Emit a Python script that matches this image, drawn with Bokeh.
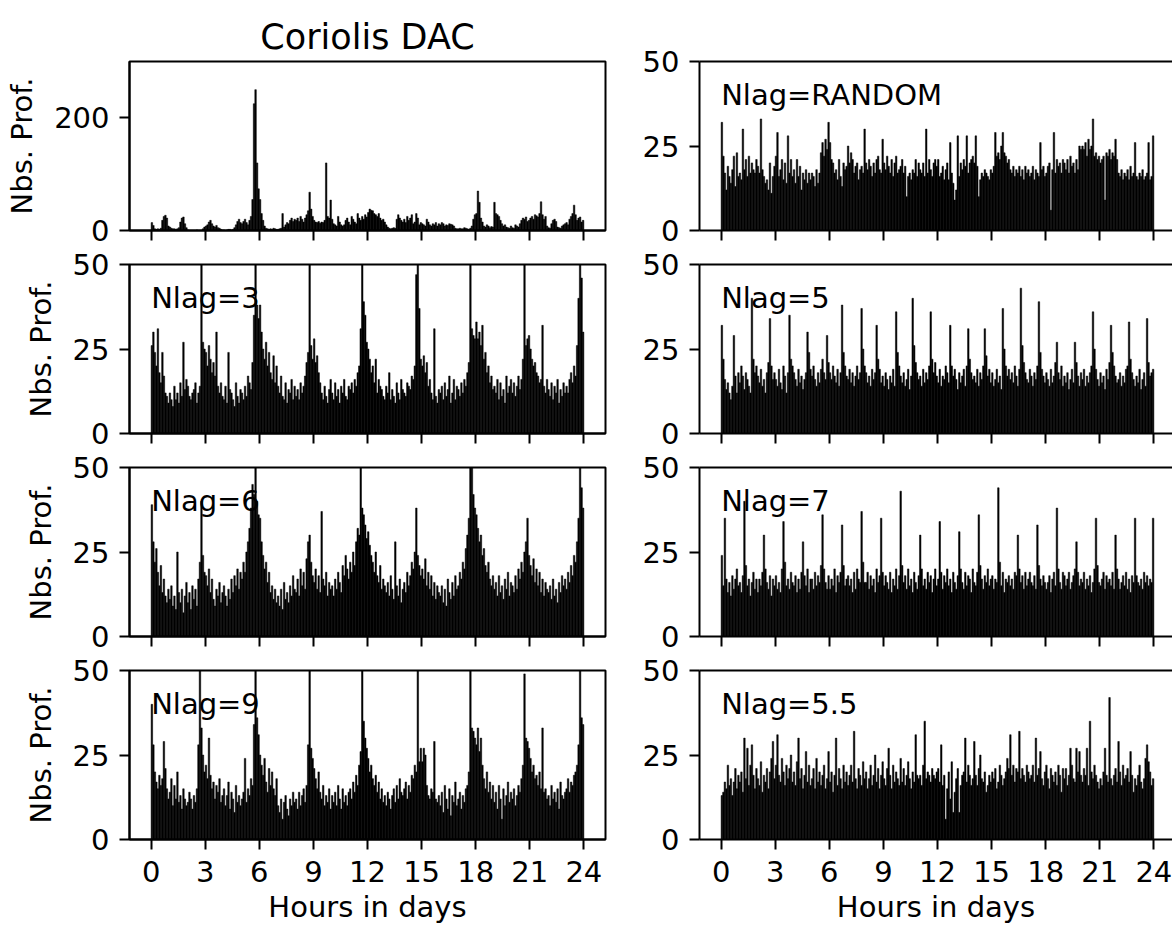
from bokeh.plotting import figure
from bokeh.models import FixedTicker, Label, LinearAxis, Range1d
from bokeh.layouts import column, row
from bokeh.embed import file_html
from bokeh.resources import INLINE

# ---------------- data (5-minute bins over 24 h, 12 bins per hour) ----------------
hour_ticks = [0, 3, 6, 9, 12, 15, 18, 21, 24]
bins_per_hour = 12

coriolis_dac = [
    14, 9, 3, 2, 3, 2, 4, 18, 25, 27, 22, 8,
    6, 4, 3, 3, 2, 3, 5, 15, 22, 24, 12, 5,
    1, 0, 0, 0, 0, 0, 1, 0, 0, 0, 3, 6,
    8, 10, 15, 18, 12, 8, 6, 9, 5, 4, 2, 1,
    1, 0, 1, 2, 2, 1, 2, 5, 10, 16, 20, 14,
    12, 16, 20, 14, 10, 18, 25, 55, 225, 250, 120, 74,
    55, 30, 18, 8, 4, 3, 2, 3, 2, 4, 3, 2,
    2, 3, 4, 30, 6, 10, 14, 12, 18, 22, 16, 20,
    18, 22, 16, 25, 20, 15, 22, 28, 35, 68, 38, 25,
    18, 15, 14, 16, 13, 15, 14, 18, 120, 25, 22, 54,
    20, 12, 10, 8, 25, 15, 10, 8, 10, 18, 22, 15,
    10, 25, 20, 15, 12, 30, 22, 18, 25, 20, 28, 24,
    32, 38, 36, 35, 30, 28, 25, 30, 22, 18, 20, 15,
    10, 6, 4, 3, 4, 5, 4, 20, 28, 22, 18, 15,
    20, 14, 25, 18, 22, 28, 12, 15, 30, 22, 10, 14,
    12, 10, 8, 20, 15, 10, 8, 12, 10, 14, 8, 12,
    10, 14, 12, 8, 10, 9, 12, 11, 10, 8, 4, 3,
    3, 4, 3, 3, 5, 4, 3, 2, 4, 8, 20, 28,
    30, 70, 50, 22, 15, 8, 6, 10, 8, 5, 7, 6,
    50, 30, 28, 25, 18, 12, 8, 10, 6, 5, 4, 8,
    5, 4, 10, 8, 6, 12, 18, 22, 20, 24, 16, 18,
    22, 25, 20, 28, 26, 24, 30, 51, 28, 20, 25, 8,
    5, 4, 12, 18, 20, 16, 6, 5, 4, 8, 10, 12,
    14, 10, 20, 25, 30, 45, 28, 18, 22, 24, 15, 18,
]

nlag_random = [
    32, 22, 17, 12, 19, 16, 14, 18, 22, 13, 23, 16,
    17, 15, 30, 18, 21, 16, 22, 17, 20, 18, 17, 21,
    19, 17, 33, 18, 16, 14, 15, 12, 20, 11, 16, 19,
    22, 29, 16, 18, 21, 15, 20, 14, 28, 17, 21, 16,
    18, 14, 21, 16, 19, 12, 17, 15, 18, 14, 17, 15,
    17, 16, 13, 18, 14, 17, 23, 26, 22, 27, 24, 32,
    26, 21, 20, 17, 18, 15, 21, 16, 13, 20, 18, 19,
    25, 20, 23, 21, 17, 19, 20, 15, 18, 19, 17, 30,
    20, 18, 21, 19, 16, 20, 17, 21, 22, 18, 17, 27,
    20, 18, 22, 19, 17, 21, 16, 20, 22, 17, 18, 19,
    21, 17, 19, 10, 16, 17, 15, 18, 17, 21, 16, 20,
    18, 17, 20, 16, 30, 17, 21, 18, 16, 20, 21, 19,
    21, 16, 17, 19, 15, 18, 20, 15, 26, 17, 14, 9,
    12, 28, 16, 20, 18, 21, 19, 28, 17, 20, 21, 22,
    20, 28, 19, 10, 15, 17, 16, 18, 17, 16, 15, 18,
    17, 19, 29, 22, 23, 21, 25, 29, 23, 22, 20, 21,
    18, 17, 19, 16, 18, 17, 19, 16, 18, 15, 19, 17,
    18, 16, 17, 19, 15, 18, 17, 16, 26, 18, 19, 16,
    17, 19, 20, 6, 18, 29, 17, 21, 19, 20, 17, 21,
    20, 18, 21, 17, 22, 19, 20, 17, 21, 18, 25, 24,
    25, 24, 26, 22, 27, 24, 25, 33, 22, 23, 21, 22,
    20, 21, 22, 9, 23, 22, 24, 21, 23, 22, 27, 21,
    17, 16, 18, 15, 17, 16, 18, 15, 19, 16, 17, 26,
    16, 15, 17, 16, 18, 15, 16, 17, 26, 15, 16, 28,
]

nlag_3 = [
    26, 30, 24, 20, 31, 18, 15, 24, 17, 12, 11, 9,
    12, 10, 8, 14, 10, 12, 9, 15, 11, 27, 13, 16,
    14, 11, 10, 12, 13, 15, 9, 12, 14, 60, 27, 25,
    24, 20, 26, 22, 18, 21, 17, 30, 14, 12, 15, 11,
    10, 14, 9, 24, 13, 12, 10, 8, 15, 11, 9, 13,
    12, 10, 14, 11, 17, 15, 13, 21, 35, 60, 38, 34,
    38, 30, 25, 22, 27, 20, 24, 18, 16, 23, 15, 20,
    14, 12, 17, 11, 10, 15, 9, 13, 12, 16, 10, 14,
    11, 13, 10, 15, 12, 14, 17, 21, 24, 60, 26, 22,
    28, 21, 23, 18, 15, 12, 10, 14, 11, 9, 13, 16,
    12, 10, 15, 11, 13, 9, 14, 12, 16, 11, 10, 14,
    13, 15, 12, 16, 14, 18, 20, 31, 60, 39, 35, 27,
    25, 22, 18, 20, 15, 22, 12, 16, 14, 13, 11, 10,
    14, 12, 18, 10, 13, 11, 9, 15, 12, 10, 16, 13,
    12, 11, 15, 14, 13, 17, 16, 20, 47, 60, 37, 22,
    20, 23, 18, 21, 14, 16, 12, 10, 31, 11, 9, 13,
    12, 14, 10, 15, 11, 13, 17, 9, 12, 16, 10, 14,
    13, 11, 15, 12, 16, 14, 18, 21, 60, 31, 29, 28,
    33, 28, 30, 26, 32, 22, 24, 18, 20, 15, 17, 13,
    14, 12, 16, 10, 15, 11, 13, 9, 17, 12, 14, 16,
    12, 15, 11, 14, 17, 13, 16, 22, 60, 26, 28, 29,
    25, 22, 20, 21, 18, 17, 15, 16, 32, 14, 12, 16,
    13, 11, 15, 10, 14, 12, 16, 9, 13, 11, 15, 12,
    14, 12, 16, 18, 15, 20, 17, 26, 40, 60, 46, 30,
]

nlag_5 = [
    32, 22, 16, 13, 15, 12, 10, 14, 29, 17, 12, 18,
    15, 20, 17, 13, 18, 16, 14, 12, 40, 22, 18, 20,
    17, 15, 19, 14, 16, 12, 18, 21, 34, 20, 16, 18,
    16, 14, 19, 15, 13, 20, 17, 12, 18, 35, 22, 20,
    18, 16, 14, 19, 15, 17, 13, 16, 18, 30, 24, 19,
    17, 20, 16, 14, 18, 15, 19, 22, 18, 16, 29, 21,
    18, 16, 20, 17, 15, 19, 14, 18, 38, 24, 20, 17,
    16, 19, 15, 18, 14, 17, 20, 16, 18, 37, 25, 20,
    18, 15, 17, 14, 19, 16, 18, 32, 22, 19, 15, 17,
    14, 18, 16, 13, 17, 15, 19, 14, 36, 24, 20, 17,
    15, 18, 14, 16, 19, 13, 17, 40, 26, 21, 18, 16,
    17, 14, 19, 15, 18, 16, 20, 36, 22, 18, 21, 17,
    15, 19, 14, 17, 16, 20, 18, 15, 32, 20, 17, 19,
    16, 13, 18, 15, 17, 19, 14, 20, 31, 22, 18, 16,
    17, 15, 19, 14, 18, 16, 20, 31, 23, 17, 19, 15,
    18, 14, 16, 19, 15, 17, 13, 37, 25, 20, 17, 19,
    16, 18, 15, 20, 17, 14, 19, 43, 26, 21, 18, 16,
    15, 19, 17, 14, 18, 16, 20, 39, 24, 19, 17, 15,
    18, 16, 14, 19, 15, 17, 21, 27, 18, 16, 20, 14,
    17, 15, 18, 13, 16, 19, 15, 27, 21, 17, 14, 18,
    16, 19, 14, 17, 15, 18, 20, 36, 25, 19, 16, 14,
    18, 15, 17, 13, 19, 16, 21, 32, 24, 20, 17, 15,
    16, 18, 14, 17, 15, 19, 20, 33, 22, 18, 16, 14,
    17, 15, 19, 13, 16, 18, 14, 34, 21, 17, 18, 19,
]

nlag_6 = [
    39, 28, 22, 26, 19, 15, 21, 13, 17, 12, 10, 14,
    11, 15, 9, 12, 8, 25, 13, 10, 14, 7, 12, 16,
    10, 13, 8, 15, 11, 14, 9, 17, 22, 40, 24, 19,
    18, 15, 20, 13, 17, 11, 9, 14, 12, 16, 10, 13,
    15, 12, 9, 14, 11, 17, 13, 18, 15, 20, 14, 19,
    17, 22, 19, 25, 28, 32, 38, 45, 42, 60, 40, 36,
    35, 28, 24, 20, 22, 16, 19, 13, 15, 11, 14, 10,
    12, 9, 14, 8, 16, 11, 13, 10, 15, 12, 18, 14,
    13, 17, 12, 20, 15, 19, 14, 23, 28, 30, 22, 18,
    16, 20, 14, 18, 13, 37, 17, 15, 19, 12, 16, 14,
    15, 12, 17, 14, 19, 16, 13, 21, 18, 24, 20, 17,
    22, 19, 25, 21, 28, 32, 30, 60, 38, 36, 33, 29,
    31, 27, 24, 22, 19, 25, 18, 16, 21, 14, 17, 15,
    13, 16, 12, 18, 14, 11, 28, 15, 12, 17, 10, 14,
    16, 13, 19, 15, 18, 22, 20, 25, 38, 24, 21, 18,
    20, 17, 23, 15, 19, 14, 18, 12, 16, 11, 15, 13,
    12, 15, 10, 14, 9, 17, 13, 11, 16, 12, 18, 14,
    15, 19, 17, 22, 20, 26, 30, 35, 60, 55, 42, 38,
    36, 32, 28, 30, 24, 26, 21, 19, 22, 17, 15, 18,
    14, 16, 12, 18, 13, 15, 11, 17, 14, 19, 12, 16,
    15, 13, 18, 14, 20, 17, 22, 19, 25, 28, 35, 24,
    21, 18, 23, 16, 20, 15, 19, 13, 17, 12, 16, 14,
    13, 15, 11, 17, 12, 14, 10, 16, 13, 18, 15, 17,
    14, 19, 16, 21, 18, 24, 22, 28, 35, 60, 44, 38,
]

nlag_7 = [
    24, 15, 35, 17, 13, 16, 12, 18, 14, 17, 20, 15,
    16, 13, 18, 40, 21, 15, 17, 12, 16, 19, 14, 17,
    13, 17, 15, 19, 30, 20, 16, 14, 18, 12, 17, 15,
    18, 14, 16, 13, 20, 34, 22, 15, 17, 14, 19, 16,
    15, 18, 13, 17, 14, 19, 28, 18, 15, 20, 13, 17,
    17, 14, 19, 15, 18, 16, 21, 36, 20, 16, 14, 18,
    14, 17, 15, 20, 13, 18, 16, 19, 33, 21, 15, 17,
    18, 15, 17, 13, 19, 14, 20, 17, 16, 37, 22, 16,
    16, 19, 14, 18, 15, 17, 13, 20, 16, 18, 35, 19,
    15, 18, 16, 14, 19, 13, 17, 15, 20, 14, 18, 43,
    21, 16, 18, 14, 20, 15, 17, 13, 19, 16, 14, 18,
    30, 20, 15, 17, 14, 19, 16, 18, 13, 17, 20, 15,
    17, 34, 19, 14, 18, 16, 20, 15, 17, 13, 19, 16,
    14, 18, 31, 20, 16, 14, 19, 15, 18, 17, 13, 20,
    16, 15, 19, 36, 21, 17, 14, 18, 16, 20, 15, 17,
    18, 14, 17, 16, 44, 22, 15, 19, 13, 17, 16, 18,
    15, 17, 14, 19, 18, 30, 20, 16, 18, 14, 19, 15,
    17, 19, 16, 15, 18, 14, 33, 21, 17, 15, 18, 16,
    14, 16, 18, 13, 17, 19, 15, 38, 20, 16, 14, 19,
    18, 15, 17, 19, 14, 16, 18, 20, 28, 19, 15, 17,
    16, 19, 14, 17, 15, 18, 13, 16, 20, 35, 21, 16,
    15, 17, 19, 14, 18, 16, 17, 15, 19, 14, 30, 20,
    17, 14, 16, 18, 15, 19, 14, 17, 13, 18, 16, 35,
    18, 16, 15, 17, 14, 19, 16, 18, 15, 17, 16, 35,
]

nlag_9 = [
    40, 28, 20, 17, 15, 19, 16, 18, 29, 21, 15, 12,
    14, 18, 10, 16, 12, 20, 11, 13, 9, 15, 12, 10,
    11, 14, 12, 9, 13, 11, 15, 28, 60, 33, 25, 20,
    22, 18, 30, 19, 15, 17, 12, 16, 14, 18, 11, 13,
    15, 10, 13, 17, 9, 14, 12, 8, 16, 11, 13, 10,
    12, 14, 24, 11, 15, 13, 18, 16, 34, 60, 36, 31,
    25, 22, 19, 24, 17, 14, 21, 16, 20, 15, 13, 18,
    10, 8, 12, 6, 11, 13, 9, 7, 12, 10, 14, 11,
    12, 9, 14, 10, 13, 15, 11, 16, 28, 60, 27, 24,
    21, 18, 15, 20, 14, 12, 16, 10, 13, 11, 15, 9,
    13, 11, 14, 10, 16, 12, 9, 15, 11, 13, 10, 14,
    15, 12, 17, 14, 19, 16, 22, 26, 60, 35, 30, 27,
    24, 20, 22, 18, 16, 19, 14, 17, 12, 15, 11, 13,
    10, 14, 12, 9, 13, 15, 11, 16, 12, 18, 14, 13,
    15, 17, 12, 16, 14, 19, 18, 22, 20, 60, 23, 27,
    23, 27, 25, 16, 13, 12, 15, 14, 29, 12, 11, 13,
    10, 14, 8, 16, 12, 9, 15, 7, 13, 11, 17, 10,
    12, 14, 9, 13, 11, 15, 16, 20, 60, 33, 32, 30,
    28, 33, 26, 30, 22, 18, 15, 20, 14, 17, 12, 16,
    11, 14, 9, 16, 12, 6, 15, 10, 13, 17, 11, 14,
    12, 15, 10, 13, 16, 14, 18, 22, 49, 30, 29, 27,
    24, 20, 22, 18, 19, 16, 20, 15, 33, 14, 15, 12,
    13, 10, 16, 12, 14, 11, 15, 9, 17, 13, 12, 14,
    15, 18, 14, 17, 16, 19, 20, 22, 28, 60, 36, 34,
]

nlag_5_5 = [
    13, 14, 17, 15, 22, 16, 18, 13, 17, 21, 15, 19,
    17, 20, 14, 30, 18, 27, 16, 22, 28, 19, 15, 21,
    18, 16, 23, 14, 19, 17, 21, 15, 20, 24, 29, 18,
    22, 31, 19, 17, 24, 20, 16, 22, 18, 21, 25, 17,
    20, 16, 23, 30, 18, 21, 15, 19, 26, 17, 22, 16,
    18, 21, 15, 24, 17, 20, 16, 19, 22, 15, 18, 26,
    17, 20, 14, 19, 30, 16, 21, 18, 15, 22, 17, 20,
    16, 19, 22, 17, 32, 18, 15, 21, 19, 16, 23, 18,
    20, 15, 18, 22, 16, 19, 25, 17, 21, 15, 19, 23,
    18, 16, 21, 27, 19, 15, 22, 17, 20, 18, 16, 24,
    17, 21, 16, 19, 23, 18, 15, 20, 17, 31, 19, 18,
    19, 16, 22, 35, 18, 20, 19, 17, 21, 19, 18, 20,
    21, 17, 28, 16, 19, 6, 15, 20, 12, 23, 8, 14,
    18, 21, 8, 16, 19, 20, 30, 17, 22, 19, 16, 18,
    29, 19, 16, 21, 25, 18, 17, 20, 14, 16, 19, 17,
    20, 18, 21, 15, 17, 22, 19, 16, 18, 20, 24, 21,
    31, 19, 22, 17, 21, 20, 32, 18, 21, 19, 17, 22,
    20, 18, 19, 22, 17, 30, 19, 21, 26, 18, 16, 20,
    22, 18, 15, 21, 19, 17, 20, 16, 22, 19, 14, 21,
    18, 21, 16, 19, 27, 22, 18, 17, 27, 20, 26, 19,
    17, 21, 19, 27, 16, 35, 20, 18, 22, 19, 17, 15,
    18, 16, 20, 27, 19, 17, 42, 18, 16, 19, 21, 17,
    29, 20, 16, 22, 18, 19, 21, 17, 26, 19, 14, 18,
    16, 19, 22, 17, 15, 18, 24, 28, 23, 20, 16, 18,
]

panel_labels = ["Nlag=RANDOM", "Nlag=3", "Nlag=5", "Nlag=6", "Nlag=7", "Nlag=9", "Nlag=5.5"]

for arr in [coriolis_dac, nlag_random, nlag_3, nlag_5, nlag_6, nlag_7, nlag_9, nlag_5_5]:
    assert len(arr) == 24 * bins_per_hour, len(arr)

# ---------------- styling / layout ----------------
FONT = "DejaVu Sans"
TICK_FS = "29px"
LABEL_FS = "29px"
TITLE_FS = "35px"
FRAME_H = 169
PX_PER_H = 476 / 26.4
LEFT_W = 609
RIGHT_W = 1172 - LEFT_W


def style_axis(ax):
    ax.axis_line_width = 2
    ax.axis_line_color = "black"
    ax.major_tick_line_width = 2
    ax.major_tick_line_color = "black"
    ax.major_tick_out = 10
    ax.major_tick_in = 0
    ax.minor_tick_line_color = None
    ax.major_label_text_font = FONT
    ax.major_label_text_font_size = TICK_FS
    ax.major_label_text_color = "black"
    ax.axis_label_text_font = FONT
    ax.axis_label_text_font_size = LABEL_FS
    ax.axis_label_text_font_style = "normal"
    ax.axis_label_text_color = "black"


def make_panel(values, ymax, yticks, col, r, label=None, title=None):
    top_b = 61 if r == 0 else 17
    bot_b = 17 if r < 3 else (927 - 839)
    if col == 0:
        width = LEFT_W
        mbl, mbr = 129, 4
        xr = Range1d(-1.2, 25.2)
    else:
        width = RIGHT_W
        mbl, mbr = 699 - LEFT_W, 0
        frame_w = width - mbl - mbr
        xr = Range1d(-1.2, -1.2 + frame_w / PX_PER_H)
    p = figure(width=width, height=top_b + FRAME_H + bot_b, x_range=xr,
               y_range=Range1d(0, ymax), output_backend="svg", toolbar_location=None,
               min_border_left=mbl, min_border_right=mbr, min_border_top=top_b,
               min_border_bottom=bot_b, title=title)
    p.background_fill_color = "white"
    p.border_fill_color = "white"
    centers = [(i + 0.5) / bins_per_hour for i in range(len(values))]
    p.vbar(x=centers, top=values, width=1 / bins_per_hour, bottom=0,
           fill_color="black", line_color="black", line_width=0.5)
    p.xgrid.visible = False
    p.ygrid.visible = False

    xa = p.below[0]
    ya = p.left[0]
    style_axis(xa)
    style_axis(ya)
    xa.ticker = FixedTicker(ticks=hour_ticks)
    ya.ticker = FixedTicker(ticks=yticks)
    ya.major_label_standoff = 10
    if r < 3:
        xa.major_label_text_alpha = 0
        xa.major_label_standoff = 0
    else:
        xa.major_label_standoff = 11
        xa.axis_label = "Hours in days"
        xa.axis_label_standoff = 5
    if col == 0:
        ya.axis_label = "Nbs. Prof."
        ya.axis_label_standoff = 12
        p.outline_line_color = "black"
        p.outline_line_width = 2
    else:
        p.outline_line_color = None
        top_axis = LinearAxis(ticker=FixedTicker(ticks=[]), major_tick_out=0, major_tick_in=0,
                              minor_tick_out=0, minor_tick_in=0, axis_line_width=2,
                              axis_line_color="black", major_label_text_alpha=0,
                              major_label_standoff=0)
        p.add_layout(top_axis, "above")
    if title is not None:
        p.title.text_font = FONT
        p.title.text_font_size = TITLE_FS
        p.title.text_font_style = "normal"
        p.title.text_color = "black"
        p.title.align = "center"
        p.title.standoff = 9
    if label is not None:
        p.add_layout(Label(x=0, y=40, text=label, text_font=FONT, text_font_size=LABEL_FS,
                           text_color="black", text_baseline="alphabetic", text_align="left"))
    return p


y50 = [0, 25, 50]
p1 = make_panel(coriolis_dac, 300, [0, 200], 0, 0, title="Coriolis DAC")
p2 = make_panel(nlag_random, 50, y50, 1, 0, label=panel_labels[0])
p3 = make_panel(nlag_3, 50, y50, 0, 1, label=panel_labels[1])
p4 = make_panel(nlag_5, 50, y50, 1, 1, label=panel_labels[2])
p5 = make_panel(nlag_6, 50, y50, 0, 2, label=panel_labels[3])
p6 = make_panel(nlag_7, 50, y50, 1, 2, label=panel_labels[4])
p7 = make_panel(nlag_9, 50, y50, 0, 3, label=panel_labels[5])
p8 = make_panel(nlag_5_5, 50, y50, 1, 3, label=panel_labels[6])

layout = column(row(p1, p2), row(p3, p4), row(p5, p6), row(p7, p8))

open("out.html", "w").write(file_html(layout, INLINE))
